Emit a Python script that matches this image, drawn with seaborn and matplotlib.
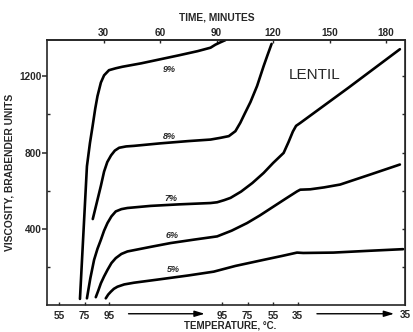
import matplotlib
matplotlib.use("Agg")
import matplotlib.pyplot as plt
import matplotlib.transforms as mtransforms
import pandas as pd
import seaborn as sns

# Brabender amylograph curves for lentil starch pastes at five concentrations
t9 = [17.5, 21.2, 22.8, 24.2, 25.6, 26.8, 28.6, 30.3, 32.9, 36.5, 40, 50, 60, 70, 80, 86.8, 89.4, 92, 94.7]
v9 = [32, 728, 850, 938, 1030, 1096, 1167, 1205, 1232, 1242, 1250, 1268, 1289, 1310, 1332, 1350, 1366, 1378, 1390]

t8 = [24.3, 26.5, 28.6, 30.3, 32, 34, 36, 38.3, 42, 46.2, 60, 75, 86.8, 92, 96.5, 100, 102.6, 105, 108, 111.5, 115, 117, 119.2]
v8 = [451, 540, 625, 700, 750, 785, 810, 825, 832, 835, 848, 860, 868, 877, 886, 912, 956, 1005, 1065, 1149, 1254, 1310, 1370]

t7 = [21.2, 23, 25, 26.8, 28.6, 30.3, 32.1, 34.2, 36.5, 39.5, 42.7, 55, 70, 86.8, 90.3, 94, 97.4, 103, 109, 115, 120, 125.6, 128.2, 130.5, 132.2, 134.4, 160, 187.3]
v7 = [35, 140, 237, 295, 342, 390, 430, 465, 491, 503, 509, 520, 528, 535, 539, 550, 562, 595, 640, 693, 745, 798, 855, 910, 940, 955, 1140, 1342]

t6 = [25.9, 27.2, 28.6, 30.3, 32.1, 34.2, 36.5, 39.5, 42.7, 55, 65.6, 78, 90.3, 98, 106.2, 113, 120.3, 127, 132.7, 134.4, 139.7, 147, 155.6, 171.4, 187.3]
v6 = [41, 75, 114, 150, 184, 220, 246, 268, 281, 305, 325, 343, 360, 390, 430, 470, 517, 560, 596, 605, 607, 617, 632, 684, 737]

t5 = [31.2, 32.5, 33.9, 35.5, 37.4, 41, 46.2, 60, 75, 88.5, 100, 115, 125, 132.7, 136, 152, 170, 189]
v5 = [35, 55, 70, 85, 96, 108, 117, 135, 155, 175, 205, 237, 258, 275, 273, 275, 284, 293]

conc_labels = ["9%", "8%", "7%", "6%", "5%"]
label_t = [64.7, 65.2, 66.0, 66.5, 67.0]
label_v = [1233, 886, 558, 363, 188]

time_ticks = [30, 60, 90, 120, 150, 180]
temp_tick_t = [6.5, 20, 33, 93, 106.5, 120, 133]
temp_tick_labels = ["55", "75", "95", "95", "75", "55", "35"]

frames = []
for lab, t, v in zip(conc_labels, [t9, t8, t7, t6, t5], [v9, v8, v7, v6, v5]):
    frames.append(pd.DataFrame({"time": t, "viscosity": v, "conc": lab}))
df = pd.concat(frames, ignore_index=True)

sns.set_style("ticks")
plt.rcParams["font.family"] = ["Liberation Sans", "DejaVu Sans"]
plt.rcParams["font.weight"] = "bold"

fig = plt.figure(figsize=(4.14, 3.32), dpi=100)
ax = fig.add_axes([0.1135, 0.0813, 0.8647, 0.798])

sns.lineplot(data=df, x="time", y="viscosity", units="conc", estimator=None,
             color="black", lw=1.9, sort=False, ax=ax, legend=False)

ax.set_xlim(0, 190)
ax.set_ylim(0, 1390)
for s in ax.spines.values():
    s.set_linewidth(1.2)
    s.set_visible(True)

# left axis: viscosity
ax.set_yticks([400, 800, 1200])
ax.set_yticks([200, 600, 1000], minor=True)
ax.tick_params(axis="y", which="major", direction="out", length=3.5, width=1.1,
               pad=0.5, labelsize=7.2)
ax.tick_params(axis="y", which="minor", direction="in", length=2.5, width=1.0)
ax.set_ylabel("VISCOSITY, BRABENDER UNITS", fontsize=7.4, fontweight="bold", labelpad=3)

# bottom axis: temperature programme
ax.set_xticks(temp_tick_t)
ax.set_xticklabels(temp_tick_labels)
ax.tick_params(axis="x", which="major", direction="in", length=2.5, width=1.0,
               pad=4.5, labelsize=7.2)
ax.set_xlabel("")
fig.text(230 / 414, 1 - 326 / 332, "TEMPERATURE, °C.", ha="center", va="center",
         fontsize=7.0, fontweight="bold")

trans = mtransforms.blended_transform_factory(ax.transData, ax.transAxes)
fig.text(405 / 414, 1 - 315 / 332, "35", ha="center", va="center",
         fontsize=7.2, fontweight="bold")
arrow_kw = dict(arrowstyle="-|>,head_length=0.6,head_width=0.18", lw=1.0, color="black")
ax.annotate("", xy=(85.2, -0.033), xytext=(41.8, -0.033), xycoords=trans,
            textcoords=trans, arrowprops=arrow_kw, annotation_clip=False)
ax.annotate("", xy=(185.7, -0.033), xytext=(141.8, -0.033), xycoords=trans,
            textcoords=trans, arrowprops=arrow_kw, annotation_clip=False)

# top axis: time
top = ax.secondary_xaxis("top")
top.set_xticks(time_ticks)
top.tick_params(direction="in", length=2.5, width=1.0, pad=1.5, labelsize=7.2)
top.spines["top"].set_linewidth(1.2)
fig.text(217 / 414, 1 - 17 / 332, "TIME, MINUTES", ha="center", va="center",
         fontsize=7.4, fontweight="bold")

# right axis: unlabelled ticks
right = ax.secondary_yaxis("right")
right.set_yticks([200, 400, 600, 800, 1000, 1200])
right.tick_params(direction="in", length=2.5, width=1.0, labelright=False)

for lab, tx, vy in zip(conc_labels, label_t, label_v):
    ax.text(tx, vy, lab, ha="center", va="center", fontsize=6.5,
            fontweight="bold", fontstyle="italic")
ax.text(142.3, 1205, "LENTIL", ha="center", va="center", fontsize=11, fontweight="normal")

fig.savefig("out.png", dpi=100)
